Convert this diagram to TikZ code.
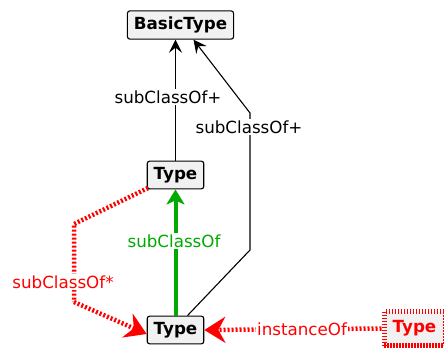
\documentclass[tikz,border=0pt]{standalone}
\usepackage{fontspec}
\setmainfont{DejaVu Sans}
\usetikzlibrary{arrows.meta}
\definecolor{boxfill}{HTML}{F1F1F1}
\definecolor{okgreen}{HTML}{00AA00}
\tikzset{
  cls/.style={draw=black, line width=1.1pt, fill=boxfill, rounded corners=2.5pt,
    font=\fontsize{16.7}{20}\selectfont\bfseries, inner xsep=6.5pt, inner ysep=6pt},
  redcls/.style={cls, draw=red, text=red, line width=5pt, dash pattern=on 1.5pt off 1.5pt,
    rounded corners=0pt, minimum width=61pt, minimum height=34pt},
  lbl/.style={fill=white, inner sep=1.5pt, font=\fontsize{16.7}{20}\selectfont},
  blk/.style={draw=black, line width=1.1pt},
  blkhead/.style={-{Stealth[length=13pt,width=13pt,inset=5pt]}},
  grn/.style={draw=okgreen, line width=4pt, -{Stealth[length=15pt,width=18pt,inset=4pt]}},
  rdot/.style={draw=red, line width=4.5pt, dash pattern=on 2pt off 2pt},
  rhead/.style={-{Stealth[length=21pt,width=26pt,inset=7pt]}},
}
\begin{document}
\begin{tikzpicture}[x=1pt,y=-1pt]
\useasboundingbox (0,0) rectangle (444,349);

% classes
\node[cls] (bt) at (180.5,25) {BasicType};
\node[cls] (tm) at (175.5,175) {Type};
\node[cls] (tb) at (175.5,330) {Type};
\node[redcls] (tr) at (414.5,328.5) {Type};

% routing points
\coordinate (r1) at (250,250);
\coordinate (r2) at (250,113);
\coordinate (d1) at (74,224);
\coordinate (d2) at (74,302);
\coordinate (tmleft) at (148,188);

% Type -> BasicType (straight)
\draw[blk, blkhead] (tm.north) -- (tm.north |- bt.south);
\node[lbl] (l1) at (168,97) {subClassOf+};

% Type -> BasicType (routed)
\draw[blk, blkhead] ([xshift=12pt]tb.north) -- (r1) -- (r2) -- ([xshift=13pt]bt.south);
\node[lbl] (l2) at (249,127) {subClassOf+};

% Type -> Type (direct)
\draw[grn] (tb.north) -- (tm.south);
\node[lbl, text=okgreen] (l3) at (174,241) {subClassOf};

% Type -> Type (transitive)
\draw[rdot] (tmleft) -- (d1) -- (d2);
\draw[rdot, rhead] (d2) -- ([yshift=-4pt]tb.west);
\node[lbl, text=red] (l4) at (63,282) {subClassOf*};

% instance link
\draw[rdot, rhead] (tr.west) -- (tb.east);
\node[lbl, text=red] (l5) at (302,329) {instanceOf};
\end{tikzpicture}
\end{document}
